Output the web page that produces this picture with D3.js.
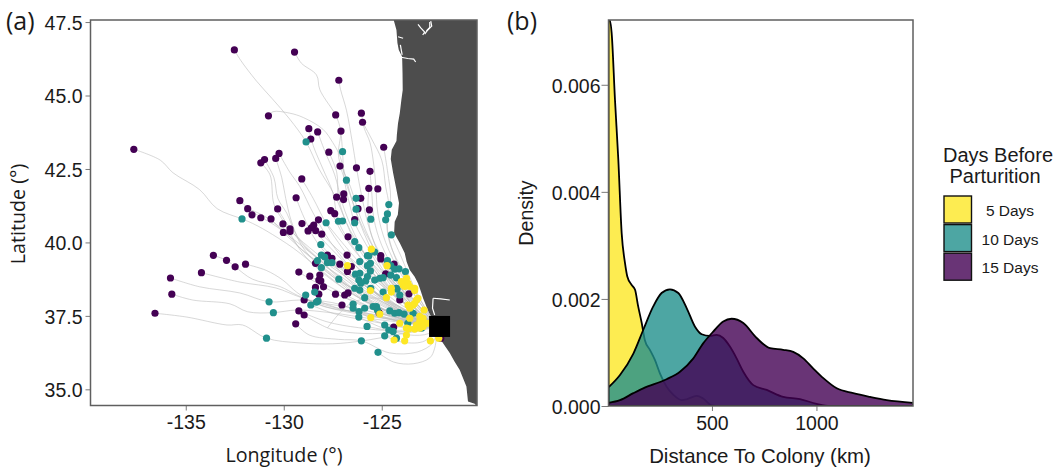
<!DOCTYPE html>
<html>
<head>
<meta charset="utf-8">
<script src="https://cdn.jsdelivr.net/npm/d3@7"></script>
<style>
  html, body { margin: 0; padding: 0; background: #fff; }
  svg { display: block; }
  text { font-family: "Liberation Sans", Arial, sans-serif; fill: #1a1a1a; }
  .soft { font-family: "Open Sans", sans-serif; }
  .axis path { display: none; }
  .axis line { stroke: #7a7a7a; stroke-width: 1; }
  .axis text { font-size: 19.5px; }
</style>
</head>
<body>
<div id="chart"></div>
<script>
// end positions, [lon, lat]
const days15 = [[-132.52,46.55],[-129.45,46.48],[-127.19,45.52],[-130.78,44.31],[-127.35,44.34],[-126.04,44.40],[-125.98,44.09],[-128.72,43.87],[-128.27,43.76],[-127.08,43.79],[-128.62,43.52],[-124.90,43.24],[-127.70,43.07],[-137.65,43.17],[-130.24,43.03],[-130.41,42.86],[-130.98,42.82],[-131.17,42.71],[-127.13,42.60],[-126.29,42.54],[-125.60,42.42],[-129.08,42.16],[-125.66,41.84],[-125.20,41.82],[-129.37,41.52],[-127.30,41.54],[-126.94,41.65],[-126.95,41.46],[-126.07,41.50],[-132.24,41.42],[-131.84,41.15],[-130.31,41.14],[-127.60,41.08],[-127.40,40.98],[-126.21,41.15],[-125.63,41.11],[-131.62,40.94],[-131.17,40.84],[-130.65,40.80],[-130.04,40.63],[-126.38,40.78],[-128.23,40.77],[-129.07,40.64],[-128.47,40.59],[-128.59,40.50],[-128.76,40.39],[-128.37,40.40],[-128.06,40.28],[-130.02,40.34],[-129.68,40.46],[-129.68,40.37],[-126.72,40.19],[-127.77,39.57],[-127.54,39.46],[-128.38,39.29],[-126.77,39.57],[-127.14,39.26],[-126.55,39.18],[-126.75,39.01],[-129.23,38.99],[-128.67,38.85],[-128.16,38.89],[-128.21,38.72],[-128.11,38.69],[-128.38,38.47],[-127.97,38.49],[-125.05,39.55],[-125.05,39.44],[-124.37,39.26],[-124.80,38.93],[-123.61,38.25],[-124.08,38.04],[-125.14,37.61],[-124.39,37.12],[-121.99,36.74],[-128.96,38.04],[-128.21,38.24],[-127.36,38.24],[-126.89,38.21],[-126.72,38.28],[-127.03,37.87],[-129.23,37.67],[-128.96,37.53],[-129.39,37.23],[-133.59,39.56],[-132.92,39.39],[-132.48,39.17],[-131.95,39.26],[-134.20,38.97],[-135.78,38.79],[-135.71,38.24],[-136.57,37.59]];

const days10 = [[-132.13,40.80],[-128.86,43.42],[-127.00,43.09],[-126.80,42.12],[-126.31,41.50],[-124.64,41.29],[-126.31,41.13],[-124.71,40.97],[-124.80,40.77],[-125.56,40.79],[-126.38,40.67],[-127.21,40.72],[-127.00,40.73],[-127.84,40.67],[-124.51,40.26],[-130.75,37.98],[-130.53,37.61],[-130.88,36.74],[-128.11,39.93],[-128.08,39.57],[-127.91,39.50],[-128.28,39.38],[-128.08,39.14],[-127.77,39.31],[-127.54,39.31],[-126.38,40.03],[-126.17,39.82],[-125.73,39.55],[-126.12,39.35],[-125.73,39.21],[-127.19,38.75],[-126.34,38.92],[-126.12,38.95],[-125.73,38.84],[-125.82,38.69],[-126.17,38.72],[-126.07,38.61],[-126.38,38.44],[-126.12,38.38],[-125.36,39.67],[-125.66,39.54],[-124.71,39.38],[-125.58,39.29],[-125.58,39.03],[-124.54,39.21],[-124.34,39.09],[-124.12,39.10],[-123.79,39.01],[-124.54,38.89],[-124.25,38.80],[-125.36,38.72],[-125.10,38.78],[-124.93,38.80],[-125.56,38.44],[-124.25,38.44],[-124.93,38.31],[-124.22,38.41],[-124.08,38.21],[-123.40,37.59],[-125.87,38.12],[-125.87,37.76],[-125.44,37.82],[-125.27,37.82],[-125.22,37.70],[-124.59,37.67],[-124.34,37.59],[-124.12,37.61],[-123.86,37.56],[-125.75,37.14],[-124.85,37.19],[-124.64,37.02],[-124.42,36.97],[-124.85,36.82],[-124.25,36.74],[-125.19,36.26],[-122.97,37.08],[-123.67,37.25],[-128.88,38.21],[-128.42,38.31],[-128.62,37.87],[-128.25,38.01],[-128.33,37.97],[-126.46,37.90],[-126.46,37.76],[-126.16,37.65],[-126.17,37.46],[-126.04,36.65]];

const days5 = [[-125.53,39.77],[-126.75,39.21],[-124.73,39.21],[-124.00,38.67],[-123.74,38.78],[-123.66,38.61],[-123.91,38.55],[-123.57,38.50],[-124.51,38.44],[-123.32,38.44],[-125.58,38.36],[-124.51,38.31],[-124.76,38.12],[-123.83,38.50],[-123.32,38.36],[-123.66,37.87],[-123.40,37.87],[-123.57,37.76],[-123.23,38.04],[-123.15,38.10],[-123.32,37.93],[-122.84,37.70],[-125.56,37.44],[-125.10,37.56],[-124.08,37.25],[-123.57,37.42],[-123.06,37.48],[-123.06,37.31],[-122.89,37.42],[-122.81,37.25],[-122.89,37.14],[-122.64,37.25],[-123.23,37.19],[-123.32,37.05],[-123.74,37.08],[-123.62,37.06],[-123.74,36.85],[-123.83,36.65],[-124.37,36.68],[-123.06,37.08],[-122.52,36.65],[-122.09,36.74]];

const colony = [[-122.05, 37.14]];

const tracks = [
  [[-132.52,46.55],[-132.2,46.2],[-131.4,45.5],[-130.6,44.9],[-129.7,44.2],[-128.86,43.42],[-128.2,42.5],[-127.4,41.6],[-126.6,40.4],[-125.3,39.1],[-123.8,37.9],[-122.15,37.15]],
  [[-129.45,46.48],[-129.1,46.1],[-128.33,45.7],[-128.16,45.2],[-127.5,44.5],[-127.35,44.34],[-127.1,43.8],[-127.2,42.9],[-126.6,41.9],[-126.0,40.7],[-125.0,39.3],[-123.7,38.0],[-122.15,37.15]],
  [[-127.19,45.52],[-127.1,45.2],[-126.8,44.5],[-126.5,43.4],[-126.29,42.54],[-126.0,41.5],[-125.6,40.4],[-124.8,39.1],[-123.6,38.0],[-122.15,37.15]],
  [[-130.78,44.31],[-130.55,44.45],[-129.7,44.4],[-129.0,44.25],[-128.0,43.85],[-127.5,43.4],[-127.14,42.95],[-126.8,42.12],[-126.3,41.0],[-125.4,39.6],[-124.0,38.2],[-122.15,37.15]],
  [[-125.98,44.09],[-125.5,43.5],[-125.0,42.8],[-124.8,41.9],[-124.64,41.29],[-124.7,40.4],[-124.2,39.3],[-123.3,38.2],[-122.15,37.15]],
  [[-126.04,44.40],[-125.9,43.9],[-125.6,43.4],[-125.4,42.6],[-125.3,41.9],[-125.2,41.0],[-124.8,40.0],[-124.0,38.9],[-122.9,37.8],[-122.15,37.15]],
  [[-128.72,43.87],[-128.5,43.3],[-128.0,42.5],[-127.5,41.7],[-127.2,40.7],[-126.2,39.6],[-124.8,38.5],[-123.4,37.7],[-122.15,37.15]],
  [[-128.27,43.76],[-127.9,43.1],[-127.4,42.3],[-127.0,41.3],[-126.4,40.3],[-125.6,39.3],[-124.3,38.2],[-122.15,37.15]],
  [[-127.08,43.79],[-127,43.09],[-126.9,42.1],[-126.6,41.2],[-126.38,40.67],[-125.6,39.7],[-124.5,38.5],[-123.3,37.6],[-122.15,37.15]],
  [[-137.65,43.17],[-136.3,42.8],[-135.65,42.37],[-134.3,41.8],[-133.4,41.15],[-132.13,40.8],[-131.6,40.65],[-130.9,40.4],[-129.5,39.8],[-128,39.0],[-126.4,38.2],[-124.5,37.6],[-122.15,37.15]],
  [[-130.24,43.03],[-129.7,42.4],[-129.18,41.9],[-128.5,41],[-127.6,40],[-126.4,39],[-124.8,38],[-123.3,37.4],[-122.15,37.15]],
  [[-130.41,42.86],[-130.1,42.2],[-129.9,41.5],[-129.6,40.7],[-129,39.8],[-127.6,38.9],[-125.9,38],[-124,37.4],[-122.15,37.15]],
  [[-130.98,42.82],[-130.5,42.2],[-130.3,41.5],[-129.85,41],[-129.3,40.2],[-128,39.3],[-126.5,38.4],[-124.6,37.6],[-122.15,37.15]],
  [[-131.17,42.71],[-130.7,42.3],[-130.5,41.3],[-130,40.7],[-129,39.6],[-127.5,38.7],[-125.5,37.9],[-122.15,37.15]],
  [[-131.84,41.15],[-131,40.9],[-130,40.4],[-129,39.7],[-127.5,38.9],[-125.8,38],[-124,37.5],[-122.15,37.15]],
  [[-132.24,41.42],[-131.5,41],[-130.5,40.6],[-129.3,40],[-128,39.3],[-126.2,38.3],[-124.2,37.5],[-122.15,37.15]],
  [[-133.59,39.56],[-132.92,39.39],[-132.48,39.17],[-131.6,38.75],[-130.2,38.5],[-129.3,38.2],[-127.8,37.8],[-126,37.6],[-124,37.3],[-122.15,37.15]],
  [[-131.95,39.26],[-130.9,39.05],[-130.05,38.72],[-129.33,38.3],[-128.3,37.9],[-126.5,37.6],[-124.3,37.35],[-122.15,37.15]],
  [[-134.2,38.97],[-132.24,38.65],[-130.4,38.45],[-129.18,38.14],[-127.5,37.8],[-125.5,37.5],[-122.15,37.15]],
  [[-135.78,38.79],[-134.29,38.49],[-132.24,38.28],[-130.75,37.98],[-129.18,38.04],[-127.5,37.95],[-125.8,37.6],[-124,37.35],[-122.15,37.15]],
  [[-135.71,38.24],[-134.65,38.04],[-132.75,37.91],[-131.84,37.64],[-130.53,37.61],[-129.33,37.7],[-127.5,37.6],[-125.5,37.4],[-122.15,37.15]],
  [[-136.57,37.59],[-134.95,37.46],[-132.9,37.19],[-132.1,37.19],[-130.88,36.74],[-129.18,36.58],[-127.5,36.55],[-126,36.65],[-124.3,36.85],[-122.15,37.15]],
  [[-125.19,36.26],[-124.4,35.93],[-123.4,35.87],[-122.55,36.07],[-122.3,36.4],[-122.15,37.15]],
  [[-129.39,37.23],[-128.7,36.85],[-127.2,36.7],[-126.04,36.65],[-124.6,36.24],[-123.2,36.27],[-122.4,36.58],[-122.15,37.15]],
  [[-127.77,37.09],[-127.14,37.6],[-126.5,37.95],[-125.2,38.1],[-123.6,37.6],[-122.15,37.15]],
  [[-129.08,42.16],[-128.5,41.5],[-127.8,40.6],[-127,39.8],[-125.8,38.8],[-124.3,37.9],[-122.15,37.15]],
  [[-129.37,41.52],[-129,40.9],[-128.3,40],[-127.2,39.2],[-125.6,38.4],[-123.8,37.6],[-122.15,37.15]],
  [[-127.7,43.07],[-127.3,42.4],[-127.2,41.5],[-126.7,40.5],[-126,39.6],[-124.8,38.6],[-123.4,37.7],[-122.15,37.15]],
  [[-127.13,42.6],[-126.6,41.6],[-126.1,40.7],[-125.4,39.8],[-124.3,38.7],[-123.2,37.7],[-122.15,37.15]],
  [[-125.6,42.42],[-125.5,41.6],[-125.4,40.8],[-125,39.9],[-124.2,38.9],[-123.2,37.9],[-122.15,37.15]],
  [[-124.9,43.24],[-124.7,42.4],[-124.55,41.5],[-124.75,40.9],[-124.6,40],[-123.9,39],[-123,38],[-122.15,37.15]],
  [[-125.66,41.84],[-125.7,41],[-125.5,40.2],[-124.7,39.2],[-123.6,38.2],[-122.15,37.15]],
  [[-128.06,40.28],[-127,39.6],[-125.8,38.9],[-124.3,38],[-123,37.5],[-122.15,37.15]],
  [[-128.59,40.5],[-127.6,39.8],[-126.4,39],[-124.9,38.1],[-123.3,37.5],[-122.15,37.15]],
  [[-128.96,38.04],[-127.7,37.9],[-126.3,37.75],[-124.6,37.5],[-122.15,37.15]],
  [[-129.23,38.99],[-128,38.5],[-126.5,38],[-124.8,37.55],[-122.15,37.15]],
  [[-128.67,38.85],[-127.4,38.4],[-125.9,37.9],[-124.1,37.4],[-122.15,37.15]],
  [[-129.23,37.67],[-127.8,37.3],[-126.2,37.1],[-124.4,37],[-122.15,37.15]],
  [[-128.96,37.53],[-127.6,37.05],[-125.9,36.9],[-124.2,36.95],[-122.15,37.15]],
  [[-128.08,39.57],[-126.9,39],[-125.3,38.3],[-123.8,37.6],[-122.15,37.15]],
  [[-128.38,39.29],[-127.2,38.7],[-125.7,38.2],[-124,37.6],[-122.15,37.15]],
  [[-126.77,39.57],[-125.8,39],[-124.6,38.3],[-123.4,37.7],[-122.15,37.15]],
  [[-127.14,39.26],[-126,38.6],[-124.6,38],[-123.2,37.5],[-122.15,37.15]],
  [[-125.05,39.5],[-124.5,38.9],[-123.7,38.2],[-122.9,37.6],[-122.15,37.15]],
  [[-124.51,40.26],[-124,39.5],[-123.5,38.7],[-122.9,37.9],[-122.15,37.15]],
  [[-127.36,38.24],[-126,37.9],[-124.5,37.45],[-122.15,37.15]],
  [[-125.75,37.14],[-124.6,37],[-123.4,36.95],[-122.15,37.15]],
  [[-130.04,40.63],[-129,40],[-127.7,39.3],[-126.2,38.6],[-124.6,37.9],[-122.15,37.15]],
  [[-130.65,40.8],[-129.8,40.2],[-128.6,39.5],[-127,38.8],[-125.3,38],[-123.3,37.4],[-122.15,37.15]],
  [[-127.6,41.08],[-127,40.3],[-126,39.4],[-124.8,38.5],[-123.4,37.7],[-122.15,37.15]],
  [[-130.31,41.14],[-129.7,40.5],[-128.7,39.7],[-127.2,39],[-125.5,38.2],[-123.6,37.5],[-122.15,37.15]],
  [[-125.36,39.67],[-124.6,39.1],[-123.7,38.3],[-122.15,37.15]],
  [[-126.17,39.82],[-125.2,39.2],[-124,38.4],[-122.9,37.7],[-122.15,37.15]],
  [[-126.38,40.03],[-125.5,39.3],[-124.3,38.5],[-123.1,37.75],[-122.15,37.15]],
  [[-127.84,40.67],[-126.9,39.9],[-125.7,39],[-124.4,38.2],[-122.15,37.15]],
  [[-128.11,39.93],[-127.1,39.2],[-125.6,38.4],[-123.9,37.75],[-122.15,37.15]],
  [[-127.54,39.31],[-126.3,38.5],[-124.9,37.95],[-123.4,37.45],[-122.15,37.15]],
  [[-127.19,38.75],[-126,38.2],[-124.7,37.75],[-123.3,37.3],[-122.15,37.15]],
  [[-128.25,38.01],[-126.9,37.7],[-125.4,37.55],[-123.7,37.25],[-122.15,37.15]],
  [[-128.62,37.87],[-127.3,37.55],[-125.8,37.35],[-124,37.15],[-122.15,37.15]],
  [[-126.46,37.76],[-125.2,37.3],[-123.8,37.1],[-122.15,37.15]],
  [[-126.17,37.46],[-125,37.1],[-123.6,36.85],[-122.6,36.9],[-122.15,37.15]],
  [[-125.58,39.03],[-124.7,38.4],[-123.6,37.8],[-122.15,37.15]],
  [[-125.56,38.44],[-124.6,37.85],[-123.4,37.4],[-122.15,37.15]],
  [[-124.8,38.93],[-124.1,38.3],[-123.3,37.6],[-122.15,37.15]],
  [[-124.25,38.8],[-123.7,38.1],[-122.9,37.45],[-122.15,37.15]],
  [[-125.87,38.12],[-124.9,37.7],[-123.6,37.3],[-122.15,37.15]],
  [[-124.85,36.82],[-123.9,36.6],[-122.8,36.65],[-122.15,37.15]]
];

const land = [[-124.39,47.57],[-124.25,47.23],[-124.20,46.79],[-124.13,46.55],[-123.96,46.32],[-123.94,45.77],[-123.93,45.19],[-124.00,44.85],[-124.08,44.40],[-124.17,44.06],[-124.23,43.66],[-124.25,43.45],[-124.49,43.15],[-124.54,42.84],[-124.42,42.36],[-124.25,41.79],[-124.12,41.34],[-124.18,40.94],[-124.34,40.70],[-124.37,40.32],[-124.08,39.98],[-123.83,39.64],[-123.73,39.34],[-123.57,39.06],[-123.32,38.83],[-123.15,38.61],[-123.01,38.35],[-122.89,38.10],[-122.65,37.70],[-122.50,37.47],[-122.30,37.02],[-121.87,36.57],[-121.53,36.24],[-121.28,35.94],[-121.02,35.66],[-120.68,35.10],[-120.60,34.59],[-120.26,34.51],[-120,34.3],[-120,47.7],[-124.39,47.7]];

const inlets = [
  [[-124.08,46.31],[-123.67,46.26],[-123.37,46.24],[-123.27,46.14]],
  [[-124.17,47.0],[-123.91,46.95]],
  [[-124.05,46.72],[-123.96,46.38]],
  [[-123.15,47.42],[-123.01,47.30],[-122.81,47.16],[-122.91,47.06]],
  [[-122.50,47.53],[-122.45,47.36],[-122.65,47.23],[-122.81,47.09]],
  [[-122.55,47.50],[-122.55,47.32],[-122.72,47.20]],
  [[-122.38,38.10],[-121.99,38.08],[-121.53,38.04]],
  [[-122.38,38.10],[-122.41,37.76],[-122.30,37.53]]
];

// density curves, [km, density]
const density5 = [[5,0.00722],[9,0.00722],[20,0.00697],[36,0.00572],[52,0.0046],[68,0.00323],[84,0.00267],[95,0.00242],[116,0.00226],[132,0.00217],[147,0.00186],[164,0.00155],[179,0.00123],[203,0.00105],[227,0.00086],[251,0.00061],[283,0.00036],[315,0.00021],[355,0.00011],[379,0.000125],[427,0.00019],[458,0.00014],[499,0.00001],[540,0],[1462,0]];
const density10 = [[5,0.00035],[60,0.00058],[124,0.00098],[171,0.00142],[219,0.00186],[259,0.00211],[299,0.00218],[339,0.00211],[379,0.00183],[419,0.00148],[451,0.00134],[490,0.00131],[522,0.00133],[554,0.00127],[586,0.00111],[618,0.00089],[650,0.00064],[698,0.00039],[762,0.0003],[841,0.00017],[921,0.00013],[1001,0.00004],[1065,0],[1462,0]];
const density15 = [[5,0.00006],[60,0.00011],[124,0.00024],[171,0.00033],[283,0.0005],[347,0.00064],[411,0.00089],[458,0.00117],[506,0.00139],[554,0.00158],[594,0.00163],[650,0.00155],[714,0.00127],[778,0.00108],[841,0.00105],[889,0.00101],[937,0.00089],[985,0.0007],[1033,0.00052],[1097,0.00033],[1176,0.00024],[1256,0.00017],[1336,0.00011],[1462,0.00006]];

const legendLabels = ["5 Days", "10 Days", "15 Days"];
const fills = ["#fde725", "#21908c", "#440154"];
const latTicks = [35, 37.5, 40, 42.5, 45, 47.5];
const lonTicks = [-135, -130, -125];
const densityTicks = [0, 0.002, 0.004, 0.006];
const distanceTicks = [500, 1000];

const svg = d3.select("#chart").append("svg").attr("width", 1063).attr("height", 468);
const defs = svg.append("defs");

// ---- panel a
const boxA = { left: 90.5, right: 477, top: 20, bottom: 405.5 };
const x = d3.scaleLinear().domain([-139.86, -120.14]).range([boxA.left, boxA.right]);
const y = d3.scaleLinear().domain([34.45, 47.57]).range([boxA.bottom, boxA.top]);

defs.append("clipPath").attr("id", "clip-a").append("rect")
  .attr("x", boxA.left).attr("y", boxA.top)
  .attr("width", boxA.right - boxA.left).attr("height", boxA.bottom - boxA.top);

const mapLine = d3.line().x((d) => x(d[0])).y((d) => y(d[1]));
const trackLine = d3.line().x((d) => x(d[0])).y((d) => y(d[1])).curve(d3.curveCatmullRom.alpha(0.5));

const map = svg.append("g").attr("clip-path", "url(#clip-a)");
map.append("path").attr("d", mapLine(land) + "Z").attr("fill", "#4d4d4d");
map.selectAll(".inlet").data(inlets).join("path")
  .attr("class", "inlet")
  .attr("d", mapLine)
  .attr("fill", "none")
  .attr("stroke", "#fff")
  .attr("stroke-width", 1.2);

map.selectAll(".track").data(tracks).join("path")
  .attr("class", "track")
  .attr("d", trackLine)
  .attr("fill", "none")
  .attr("stroke", "#bdbdbd")
  .attr("stroke-opacity", 0.65)
  .attr("stroke-width", 0.9);

[[days15, fills[2]], [days10, fills[1]], [days5, fills[0]]].forEach(([points, color]) => {
  map.append("g").selectAll("circle").data(points).join("circle")
    .attr("cx", (d) => x(d[0]))
    .attr("cy", (d) => y(d[1]))
    .attr("r", 3.6)
    .attr("fill", color);
});

map.selectAll(".colony").data(colony).join("rect")
  .attr("class", "colony")
  .attr("x", (d) => x(d[0]) - 10.5)
  .attr("y", (d) => y(d[1]) - 10.5)
  .attr("width", 21)
  .attr("height", 21)
  .attr("fill", "#000");

svg.append("g").attr("class", "axis")
  .attr("transform", `translate(${boxA.left},0)`)
  .call(d3.axisLeft(y).tickValues(latTicks).tickSize(5).tickPadding(3).tickFormat(d3.format(".1f")))
  .selectAll("text").attr("dy", "0.38em");
svg.append("g").attr("class", "axis")
  .attr("transform", `translate(0,${boxA.bottom})`)
  .call(d3.axisBottom(x).tickValues(lonTicks).tickSize(5).tickPadding(5).tickFormat((d) => String(d)));

svg.append("rect")
  .attr("x", boxA.left).attr("y", boxA.top)
  .attr("width", boxA.right - boxA.left).attr("height", boxA.bottom - boxA.top)
  .attr("fill", "none").attr("stroke", "#5f5f5f").attr("stroke-width", 1.5);

// ---- panel b
const boxB = { left: 608.5, right: 913, top: 20, bottom: 406 };
const xb = d3.scaleLinear().domain([5, 1462]).range([boxB.left, boxB.right]);
const yb = d3.scaleLinear().domain([0, 0.00721]).range([boxB.bottom, boxB.top]);

defs.append("clipPath").attr("id", "clip-b").append("rect")
  .attr("x", boxB.left).attr("y", boxB.top)
  .attr("width", boxB.right - boxB.left).attr("height", boxB.bottom - boxB.top);

const densityArea = d3.area()
  .x((d) => xb(d[0]))
  .y0(yb(0))
  .y1((d) => yb(d[1]))
  .curve(d3.curveMonotoneX);

svg.append("g").attr("clip-path", "url(#clip-b)")
  .selectAll("path").data([density5, density10, density15]).join("path")
  .attr("d", densityArea)
  .attr("fill", (d, i) => fills[i])
  .attr("fill-opacity", 0.8)
  .attr("stroke", "#000")
  .attr("stroke-width", 1.8);

svg.append("g").attr("class", "axis")
  .attr("transform", `translate(${boxB.left},0)`)
  .call(d3.axisLeft(yb).tickValues(densityTicks).tickSize(7).tickPadding(1).tickFormat(d3.format(".3f")))
  .selectAll("text").attr("dy", "0.38em");
svg.append("g").attr("class", "axis")
  .attr("transform", `translate(0,${boxB.bottom})`)
  .call(d3.axisBottom(xb).tickValues(distanceTicks).tickSize(5).tickPadding(5).tickFormat((d) => String(d)));

svg.append("rect")
  .attr("x", boxB.left).attr("y", boxB.top)
  .attr("width", boxB.right - boxB.left).attr("height", boxB.bottom - boxB.top)
  .attr("fill", "none").attr("stroke", "#5f5f5f").attr("stroke-width", 1.5);

// ---- titles
svg.append("text").attr("class", "soft").attr("x", 6).attr("y", 30).attr("font-size", 25).text("(a)");
svg.append("text").attr("class", "soft").attr("x", 507).attr("y", 30).attr("font-size", 25).text("(b)");
svg.append("text").attr("class", "soft").attr("x", 284).attr("y", 462).attr("text-anchor", "middle").attr("font-size", 19.7).text("Longitude (°)");
svg.append("text").attr("class", "soft").attr("transform", "translate(25,214) rotate(-90)").attr("text-anchor", "middle").attr("font-size", 19.7).text("Latitude (°)");
svg.append("text").attr("x", 760).attr("y", 463).attr("text-anchor", "middle").attr("font-size", 20.4).text("Distance To Colony (km)");
svg.append("text").attr("transform", "translate(533,213) rotate(-90)").attr("text-anchor", "middle").attr("font-size", 19.6).text("Density");

// ---- legend
svg.append("text").attr("x", 998).attr("y", 162).attr("text-anchor", "middle").attr("font-size", 20).text("Days Before");
svg.append("text").attr("x", 995).attr("y", 183).attr("text-anchor", "middle").attr("font-size", 20).text("Parturition");

const legendRows = svg.append("g").selectAll("g").data(legendLabels).join("g")
  .attr("transform", (d, i) => `translate(944,${196 + i * 28.6})`);
legendRows.append("rect")
  .attr("width", 27.5).attr("height", 27)
  .attr("fill", (d, i) => fills[i])
  .attr("fill-opacity", 0.8)
  .attr("stroke", "#111")
  .attr("stroke-width", 1.4);
legendRows.append("text")
  .attr("x", 66).attr("y", 20)
  .attr("text-anchor", "middle")
  .attr("font-size", 15.5)
  .text((d) => d);
</script>
</body>
</html>
